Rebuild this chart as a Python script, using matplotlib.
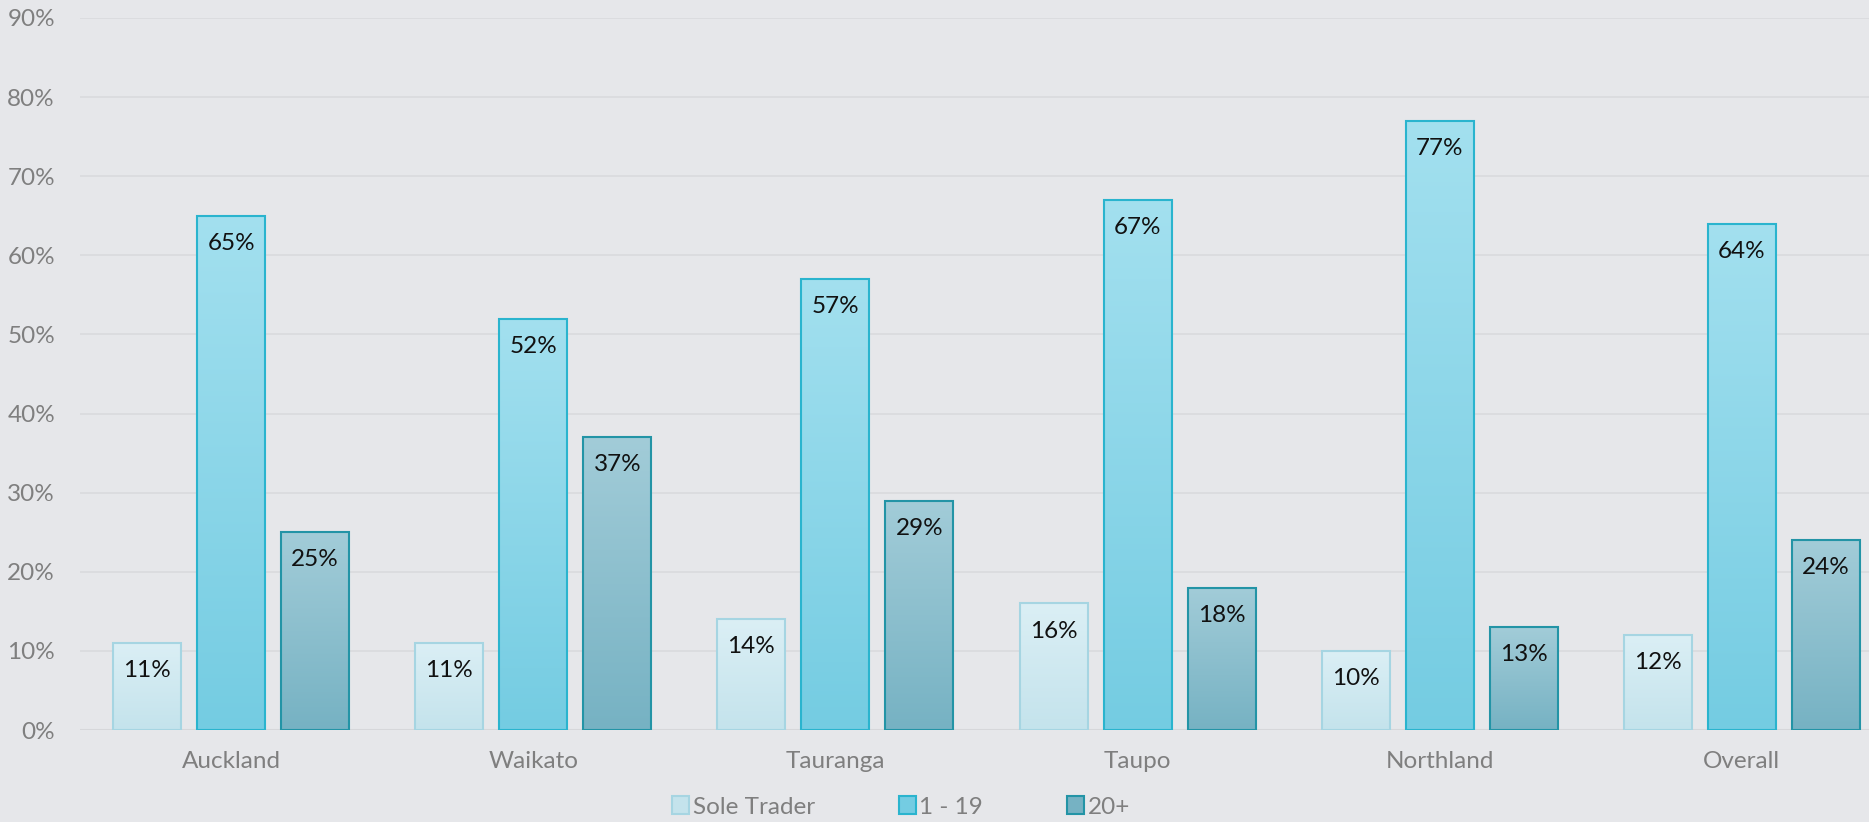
import numpy as np
import matplotlib
matplotlib.use('Agg')
import matplotlib.pyplot as plt
from matplotlib.colors import LinearSegmentedColormap
from matplotlib.patches import Rectangle

plt.rcParams['font.family'] = ['Lato', 'DejaVu Sans']

# data
regions = ['Auckland', 'Waikato', 'Tauranga', 'Taupo', 'Northland', 'Overall']
sole_trader = [11, 11, 14, 16, 10, 12]
small_firms = [65, 52, 57, 67, 77, 64]
large_firms = [25, 37, 29, 18, 13, 24]
series_names = ['Sole Trader', '1 - 19', '20+']
y_ticks = [0, 10, 20, 30, 40, 50, 60, 70, 80, 90]

# styles: (top colour, bottom colour, edge colour)
styles = [('#dbeff5', '#c4e3ec', '#a6d5e2'),
          ('#a3e0ef', '#74cce2', '#2ab4ce'),
          ('#a2ccd8', '#76b2c3', '#2394a6')]

bg = '#e6e7ea'
fs = 17.5
fig = plt.figure(figsize=(18.69, 8.22), dpi=100)
fig.patch.set_facecolor(bg)

ax = fig.add_axes([80 / 1869, 1 - 730 / 822, 1813 / 1869, 712 / 822])
ax.set_facecolor('none')

x = np.arange(len(regions))
width = 0.225
step = 0.278
all_series = [sole_trader, small_firms, large_firms]

for i, (vals, name, (top, bot, edge)) in enumerate(zip(all_series, series_names, styles)):
    pos = x + (i - 1) * step
    bars = ax.bar(pos, vals, width, facecolor='none', edgecolor=edge, linewidth=1.5,
                  label=name, zorder=3)
    cmap = LinearSegmentedColormap.from_list('g%d' % i, [bot, top])
    grad = np.linspace(0, 1, 256).reshape(-1, 1)
    for b, v in zip(bars, vals):
        x0 = b.get_x()
        ax.imshow(grad, extent=[x0, x0 + width, 0, v], origin='lower', aspect='auto',
                  cmap=cmap, zorder=2, interpolation='bicubic')
        ax.text(x0 + width / 2, v - 3.5, '%d%%' % v, ha='center', va='center',
                fontsize=fs, color='#111111', zorder=4)

ax.set_xlim(-0.5, 5.5)
ax.set_ylim(0, 90)
ax.set_yticks(y_ticks)
ax.set_yticklabels(['%d%%' % t for t in y_ticks])
ax.set_xticks(x)
ax.set_xticklabels(regions)
ax.tick_params(axis='both', length=0, labelsize=fs, labelcolor='#7f7f7f')
ax.tick_params(axis='y', pad=18)
ax.tick_params(axis='x', pad=15)
ax.grid(axis='y', color='#dadbde', linewidth=1.3, zorder=0)
ax.set_axisbelow(True)
for s in ax.spines.values():
    s.set_visible(False)
ax.axhline(0, color='#d6d7da', linewidth=1.5, zorder=1)

handles = [Rectangle((0, 0), 1, 1, facecolor=bot, edgecolor=edge, linewidth=1.5)
           for (top, bot, edge) in styles]
leg = fig.legend(handles, series_names, loc='center', bbox_to_anchor=(0.482, 1 - 807 / 822),
                 ncol=3, frameon=False, fontsize=fs, handlelength=0.7, handleheight=0.7,
                 handletextpad=0.15, columnspacing=3.45)
for t in leg.get_texts():
    t.set_color('#7f7f7f')

fig.savefig('out.png', dpi=100, facecolor=bg)
